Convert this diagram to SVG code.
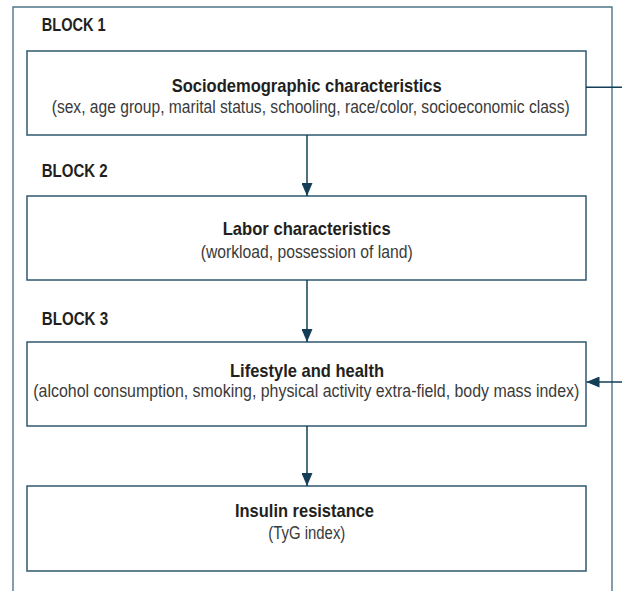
<svg xmlns="http://www.w3.org/2000/svg" width="622" height="591" viewBox="0 0 622 591">
  <style>
    .frame { fill: none; stroke: #4f7488; stroke-width: 1.4; }
    .box { fill: #ffffff; stroke: #2f5a70; stroke-width: 1.5; }
    .link { fill: none; stroke: #123f57; stroke-width: 1.5; }
    .block { font-family: "Liberation Sans Narrow", "Liberation Sans", Arial, sans-serif; font-weight: bold; font-size: 18.5px; fill: #231f20; }
    .title { font-family: "Liberation Sans Narrow", "Liberation Sans", Arial, sans-serif; font-weight: bold; font-size: 18.5px; fill: #231f20; }
    .sub { font-family: "Liberation Sans Narrow", "Liberation Sans", Arial, sans-serif; font-size: 17.5px; fill: #3a3a3a; }
  </style>
  <defs>
    <marker id="arrow" viewBox="0 0 13 11" refX="13" refY="5.5" markerWidth="13" markerHeight="11" markerUnits="userSpaceOnUse" orient="auto">
      <path d="M0,0 L13,5.5 L0,11 Z" fill="#123f57"/>
    </marker>
  </defs>

  <rect width="622" height="591" fill="#ffffff"/>

  <!-- outer frame, open at the bottom -->
  <path class="frame" d="M13,591 V7 H612 V591"/>

  <!-- block headings -->
  <text class="block" x="41.7" y="30.7" textLength="64" lengthAdjust="spacingAndGlyphs">BLOCK 1</text>
  <text class="block" x="41.7" y="176.5" textLength="66" lengthAdjust="spacingAndGlyphs">BLOCK 2</text>
  <text class="block" x="41.7" y="325" textLength="66.5" lengthAdjust="spacingAndGlyphs">BLOCK 3</text>

  <g id="sociodemographic">
    <rect class="box" x="27" y="51" width="559" height="84"/>
    <text class="title" x="171.7" y="92" textLength="270" lengthAdjust="spacingAndGlyphs">Sociodemographic characteristics</text>
    <text class="sub" x="51.7" y="113" textLength="518" lengthAdjust="spacingAndGlyphs">(sex, age group, marital status, schooling, race/color, socioeconomic class)</text>
  </g>

  <g id="labor">
    <rect class="box" x="27" y="196" width="559" height="84"/>
    <text class="title" x="222.7" y="235" textLength="168" lengthAdjust="spacingAndGlyphs">Labor characteristics</text>
    <text class="sub" x="200.7" y="257.5" textLength="212" lengthAdjust="spacingAndGlyphs">(workload, possession of land)</text>
  </g>

  <g id="lifestyle">
    <rect class="box" x="27" y="342" width="559" height="84"/>
    <text class="title" x="230" y="377" textLength="154" lengthAdjust="spacingAndGlyphs">Lifestyle and health</text>
    <text class="sub" x="33.3" y="397" textLength="546" lengthAdjust="spacingAndGlyphs">(alcohol consumption, smoking, physical activity extra-field, body mass index)</text>
  </g>

  <g id="insulin">
    <rect class="box" x="27" y="486" width="559" height="85"/>
    <text class="title" x="235" y="517" textLength="139" lengthAdjust="spacingAndGlyphs">Insulin resistance</text>
    <text class="sub" x="268.3" y="539" textLength="77" lengthAdjust="spacingAndGlyphs">(TyG index)</text>
  </g>

  <g id="connectors">
    <line class="link" x1="307" y1="135" x2="307" y2="196" marker-end="url(#arrow)"/>
    <line class="link" x1="307" y1="280" x2="307" y2="342" marker-end="url(#arrow)"/>
    <line class="link" x1="307" y1="426" x2="307" y2="486" marker-end="url(#arrow)"/>
    <line class="link" x1="586" y1="87.3" x2="622" y2="87.3"/>
    <line class="link" x1="622" y1="382" x2="586.5" y2="382" marker-end="url(#arrow)"/>
  </g>
</svg>
